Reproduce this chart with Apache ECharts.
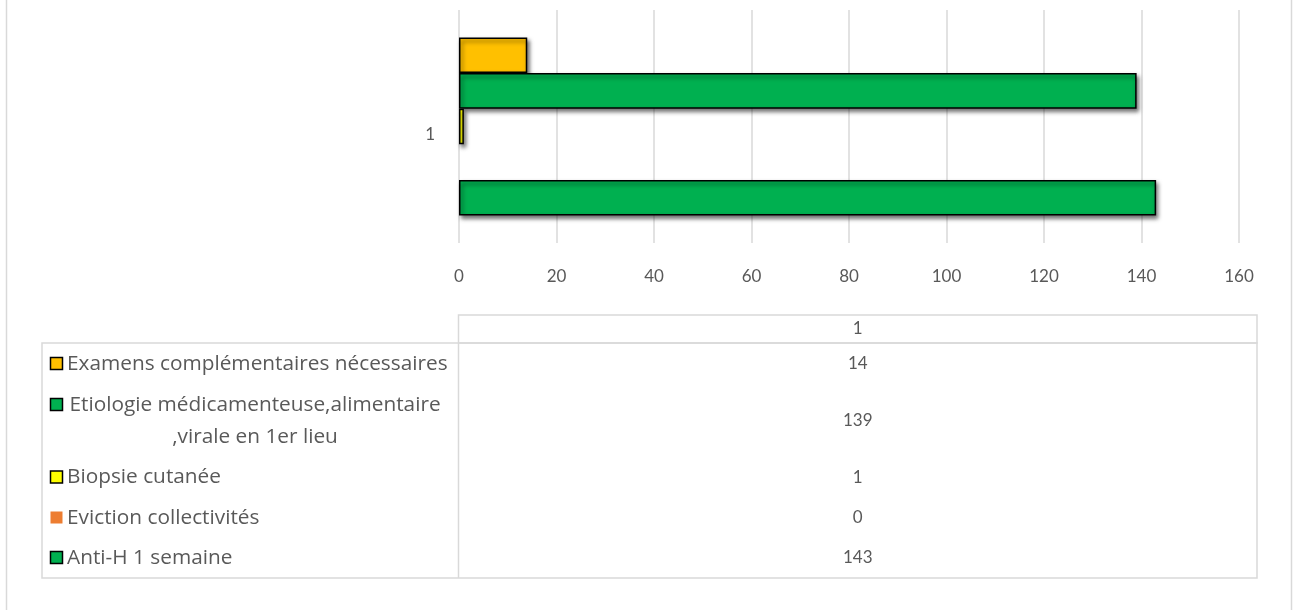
<!DOCTYPE html>
<html>
<head>
<meta charset="utf-8">
<script src="https://cdn.jsdelivr.net/npm/echarts@6/dist/echarts.min.js"></script>
<style>
html,body{margin:0;padding:0;background:#fff;}
#chart{width:1295px;height:610px;}
</style>
</head>
<body>
<div id="chart"></div>
<script>
// ---- data ----
const categories = ['1'];
// series listed top-to-bottom (same order as the data table rows)
const seriesNames = [
  'Examens complémentaires nécessaires',
  'Etiologie médicamenteuse,alimentaire\n,virale en 1er lieu',
  'Biopsie cutanée',
  'Eviction collectivités',
  'Anti-H 1 semaine'
];
const seriesValues = [14, 139, 1, 0, 143];
const seriesColors = ['#FFC000', '#00B050', '#FFFF00', '#ED7D31', '#00B050'];
const seriesBorders = [true, true, true, false, true];
const xTicks = [0, 20, 40, 60, 80, 100, 120, 140, 160];

const FONT = 'Lato, "Open Sans", sans-serif';
const TFONT = '"Open Sans", Lato, sans-serif';
const TXT = '#595959';
const LINE = '#D9D9D9';

const chart = echarts.init(document.getElementById('chart'));

const series = seriesNames.map((n, i) => ({
  name: n,
  type: 'bar',
  data: [seriesValues[i]],
  barWidth: 35.6,
  barGap: '0%',
  itemStyle: {
    color: seriesColors[i],
    borderColor: seriesBorders[i] ? '#000' : 'transparent',
    borderWidth: seriesBorders[i] ? 1.5 : 0,
    shadowColor: 'rgba(0,0,0,0.55)',
    shadowBlur: 4,
    shadowOffsetX: 2,
    shadowOffsetY: 3
  },
  emphasis: { disabled: true },
  animation: false
}));

// ---- data table built with graphics ----
const tableLeft = 42, colSep = 458.5, tableRight = 1257;
const headTop = 315, bodyTop = 343, bodyBottom = 578;
const rowBounds = [343, 385, 457, 498, 538, 578];
const graphics = [];
graphics.push({ type: 'line', shape: { x1: 6.5, y1: 0, x2: 6.5, y2: 610 }, style: { stroke: LINE, lineWidth: 1.5 } });
graphics.push({ type: 'line', shape: { x1: 1291.5, y1: 0, x2: 1291.5, y2: 610 }, style: { stroke: LINE, lineWidth: 1.5 } });
graphics.push({ type: 'rect', shape: { x: colSep, y: headTop, width: tableRight - colSep, height: bodyTop - headTop }, style: { fill: 'none', stroke: LINE, lineWidth: 1.5 } });
graphics.push({ type: 'rect', shape: { x: tableLeft, y: bodyTop, width: tableRight - tableLeft, height: bodyBottom - bodyTop }, style: { fill: 'none', stroke: LINE, lineWidth: 1.5 } });
graphics.push({ type: 'line', shape: { x1: colSep, y1: bodyTop, x2: colSep, y2: bodyBottom }, style: { stroke: LINE, lineWidth: 1.5 } });
graphics.push({ type: 'text', x: (colSep + tableRight) / 2, y: (headTop + bodyTop) / 2, style: { text: categories[0], fill: TXT, font: '17px ' + FONT, textAlign: 'center', textVerticalAlign: 'middle' } });

for (let r = 0; r < seriesNames.length; r++) {
  const top = rowBounds[r], bot = rowBounds[r + 1];
  const cy = (top + bot) / 2;
  const lines = seriesNames[r].split('\n');
  const firstLineY = lines.length > 1 ? cy - 16 : cy;
  graphics.push({ type: 'rect', shape: { x: 50.5, y: firstLineY - 6.5, width: 12, height: 12 },
    style: { fill: seriesColors[r], stroke: seriesBorders[r] ? '#000' : null, lineWidth: seriesBorders[r] ? 1.5 : 0 } });
  if (lines.length > 1) {
    graphics.push({ type: 'text', x: 255, y: cy, style: { text: seriesNames[r], fill: TXT, font: '20.8px ' + TFONT, textAlign: 'center', textVerticalAlign: 'middle', lineHeight: 32 } });
  } else {
    graphics.push({ type: 'text', x: 67, y: cy, style: { text: seriesNames[r], fill: TXT, font: '20.8px ' + TFONT, textAlign: 'left', textVerticalAlign: 'middle' } });
  }
  graphics.push({ type: 'text', x: (colSep + tableRight) / 2, y: cy, style: { text: String(seriesValues[r]), fill: TXT, font: '17px ' + FONT, textAlign: 'center', textVerticalAlign: 'middle' } });
}

chart.setOption({
  animation: false,
  backgroundColor: '#fff',
  grid: { left: 459, right: 56, top: 10, bottom: 367, containLabel: false },
  xAxis: {
    type: 'value',
    min: xTicks[0], max: xTicks[xTicks.length - 1], interval: xTicks[1] - xTicks[0],
    axisLine: { show: false }, axisTick: { show: false },
    splitLine: { show: true, lineStyle: { color: LINE, width: 1.5 } },
    axisLabel: { color: TXT, fontFamily: FONT, fontSize: 17, margin: 25 }
  },
  yAxis: {
    type: 'category', data: categories,
    axisLine: { show: false }, axisTick: { show: false },
    axisLabel: { color: TXT, fontFamily: FONT, fontSize: 17, margin: 24, verticalAlign: 'top' }
  },
  series: series,
  graphic: graphics
});
</script>
</body>
</html>
